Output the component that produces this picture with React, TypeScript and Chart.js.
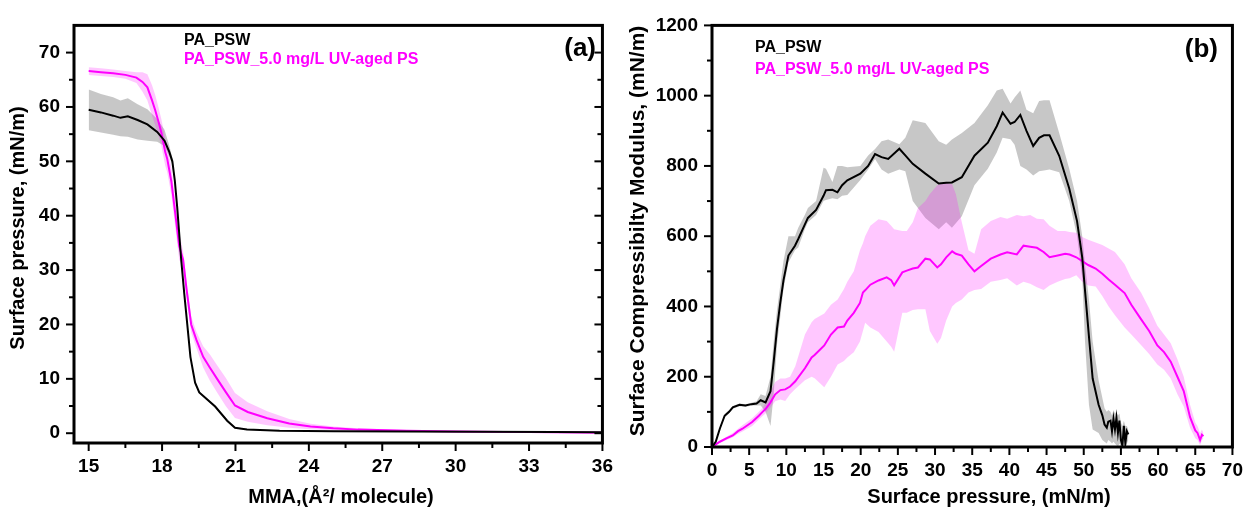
import React, { useEffect, useRef } from 'react';
import { Chart, registerables } from 'chart.js';

Chart.register(...registerables);

// ---------------- Panel (a): isotherms ----------------
const aXTicks = [15, 18, 21, 24, 27, 30, 33, 36];
const aXMinor = [16.5, 19.5, 22.5, 25.5, 28.5, 31.5, 34.5];
const aYTicks = [0, 10, 20, 30, 40, 50, 60, 70];
const aYMinor = [5, 15, 25, 35, 45, 55, 65];

const aBlackX = [15, 15.5, 16, 16.3, 16.6, 17, 17.4, 17.8, 18.1, 18.3, 18.42, 18.52, 18.62, 18.78, 18.9, 19.03, 19.16, 19.35, 19.52, 19.8, 20.17, 20.66, 20.98, 21.47, 22.8, 25, 28, 31, 34, 36];
const aBlack = [59.5, 59.0, 58.4, 58.0, 58.3, 57.6, 56.8, 55.4, 53.8, 51.7, 50.0, 46.5, 41.5, 32, 26, 20, 14, 9.3, 7.5, 6.4, 4.9, 2.3, 1.0, 0.7, 0.47, 0.38, 0.32, 0.28, 0.24, 0.2];
const aBlackUp = [63.2, 62.4, 61.8, 61.2, 61.6, 60.5, 59.6, 57.8, 55.8, 52.8, 50.6, 47.0, 42.0, 32.5, 26.3, 20.3, 14.3, 9.5, 7.7, 6.6, 5.1, 2.5, 1.15, 0.8, 0.55, 0.45, 0.38, 0.33, 0.29, 0.25];
const aBlackLo = [55.7, 55.3, 54.9, 54.6, 54.5, 54.0, 53.8, 53.6, 52.8, 50.8, 49.4, 46.0, 41.0, 31.5, 25.7, 19.7, 13.7, 9.1, 7.3, 6.2, 4.7, 2.1, 0.85, 0.6, 0.4, 0.3, 0.26, 0.23, 0.19, 0.15];

const aPinkX = [15, 15.5, 16, 16.5, 16.95, 17.2, 17.4, 17.59, 17.72, 17.86, 17.97, 18.13, 18.21, 18.38, 18.54, 18.7, 18.86, 19.0, 19.19, 19.4, 19.68, 19.95, 20.25, 20.6, 20.98, 21.5, 22.3, 23.2, 24.07, 25, 26, 28, 30, 33, 36];
const aPink = [66.6, 66.4, 66.2, 65.9, 65.4, 64.6, 63.6, 61.2, 59.4, 57.2, 55.3, 51.7, 50.5, 46.3, 40.4, 34.4, 31.9, 26.5, 20, 17.2, 14.05, 12.1, 10, 7.6, 5.1, 3.9, 2.75, 1.8, 1.25, 0.9, 0.66, 0.45, 0.3, 0.2, 0.1];
const aPinkUp = [67.3, 67.1, 66.9, 66.6, 66.4, 66.4, 66.0, 64.0, 62.2, 59.8, 57.8, 54.2, 53.0, 48.8, 42.9, 36.9, 33.4, 28.0, 21.5, 18.7, 16.0, 14.5, 12.5, 10.2, 7.4, 5.7, 4.05, 2.6, 1.75, 1.25, 0.91, 0.6, 0.45, 0.3, 0.2];
const aPinkLo = [65.9, 65.7, 65.5, 65.2, 64.4, 62.8, 61.2, 58.4, 56.6, 54.6, 52.8, 49.2, 48.0, 43.8, 37.9, 31.9, 30.4, 25.0, 18.5, 15.7, 12.1, 9.7, 7.5, 5.0, 2.8, 2.1, 1.45, 1.0, 0.75, 0.55, 0.41, 0.3, 0.15, 0.1, 0.0];

// ---------------- Panel (b): compressibility modulus ----------------
const bXTicks = [0, 5, 10, 15, 20, 25, 30, 35, 40, 45, 50, 55, 60, 65, 70];
const bXMinor = [2.5, 7.5, 12.5, 17.5, 22.5, 27.5, 32.5, 37.5, 42.5, 47.5, 52.5, 57.5, 62.5, 67.5];
const bYTicks = [0, 200, 400, 600, 800, 1000, 1200];
const bYMinor = [100, 300, 500, 700, 900, 1100];

const bBlackX = [0, 0.5, 1.05, 1.7, 2.3, 2.8, 3.7, 4.5, 5.3, 6.0, 6.55, 7.2, 7.87, 8.3, 8.74, 9.18, 9.62, 10.28, 11.16, 11.6, 12.48, 12.9, 14.0, 15.0, 15.33, 16.2, 16.87, 17.5, 18.2, 19.95, 21.0, 21.93, 22.8, 23.7, 25.2, 26.0, 27.0, 28.7, 30.5, 31.5, 32.27, 33.6, 35.3, 37.1, 38.3, 39.09, 40.15, 40.7, 41.47, 42.3, 43.2, 44.0, 44.65, 45.4, 46.7, 48.05, 49.1, 49.8, 50.17, 50.7, 51.2, 52.0, 52.5, 52.8, 53.1, 53.3, 53.6, 53.8, 54.0, 54.2, 54.4, 54.6, 54.8, 55.0, 55.2, 55.4, 55.6, 55.8, 56.0];
const bBlack = [0, 15, 52, 89, 100, 113, 120, 118, 122, 124, 133, 127, 159, 243, 336, 410, 475, 545, 573, 592, 633, 652, 675, 715, 731, 732, 725, 745, 759, 778, 800, 834, 825, 820, 849, 830, 806, 778, 750, 752, 753, 768, 829, 866, 913, 952, 920, 925, 945, 900, 857, 880, 887, 887, 829, 736, 643, 539, 446, 315, 195, 120, 90, 64, 55, 72, 75, 45, 80, 50, 83, 40, 75, 20, 4, 60, 10, 45, 36];
const bBlackUp = [0, 17, 56, 94, 105, 117, 124, 122, 126, 130, 150, 145, 200, 300, 390, 460, 530, 600, 600, 624, 660, 680, 700, 795, 792, 754, 800, 800, 796, 800, 830, 848, 870, 875, 862, 880, 930, 922, 870, 860, 875, 894, 922, 973, 1015, 1020, 978, 995, 1015, 960, 950, 985, 987, 987, 894, 792, 700, 600, 520, 420, 300, 190, 140, 110, 100, 105, 100, 90, 105, 95, 100, 90, 95, 70, 60, 75, 60, 60, 50];
const bBlackLo = [0, 13, 48, 84, 95, 109, 116, 114, 118, 118, 118, 100, 60, 150, 290, 370, 450, 525, 560, 568, 620, 640, 660, 700, 703, 708, 705, 715, 717, 760, 790, 820, 790, 778, 790, 785, 700, 652, 620, 640, 624, 657, 745, 792, 838, 880, 876, 860, 800, 790, 773, 785, 787, 790, 782, 700, 600, 480, 300, 120, 50, 40, 20, 15, 10, 20, 15, 10, 15, 10, 5, 0, 10, 0, 0, 5, 0, 10, 20];

const bPinkX = [0, 1.05, 2.0, 2.8, 3.5, 4.1, 5.4, 6.3, 6.8, 7.2, 7.8, 8.5, 9.2, 9.85, 10.5, 11.2, 12.5, 13.4, 13.8, 15.1, 16.0, 16.9, 17.75, 18.2, 19.07, 19.9, 20.3, 20.6, 21.3, 22.4, 23.5, 24.1, 24.5, 25.6, 26.2, 27.0, 27.7, 28.7, 29.3, 30.3, 30.8, 31.5, 32.3, 32.8, 33.6, 34.5, 35.3, 36.2, 37.5, 38.8, 39.7, 41.0, 41.9, 42.8, 43.7, 44.6, 45.4, 46.5, 47.5, 48.1, 49.0, 49.8, 50.6, 51.6, 52.5, 53.35, 54.2, 55.5, 56.4, 57.7, 58.8, 59.9, 60.8, 61.7, 62.6, 63.45, 64.3, 65.0, 65.3, 65.65, 65.9, 66.1];
const bPink = [0, 15, 25, 33, 45, 52, 71, 89, 100, 108, 125, 150, 162, 164, 172, 187, 224, 255, 262, 289, 320, 340, 343, 360, 382, 410, 440, 446, 462, 474, 483, 475, 460, 497, 502, 508, 511, 536, 534, 511, 520, 540, 557, 550, 545, 520, 500, 515, 536, 548, 554, 548, 573, 570, 567, 555, 540, 545, 550, 548, 540, 529, 518, 508, 493, 477, 462, 438, 405, 364, 330, 289, 270, 243, 200, 159, 85, 47, 40, 20, 35, 31];
const bPinkUp = [0, 18, 30, 40, 52, 62, 82, 100, 112, 125, 155, 185, 195, 195, 200, 230, 320, 355, 364, 380, 405, 420, 450, 470, 500, 560, 580, 600, 630, 648, 643, 630, 620, 615, 615, 640, 680, 700, 720, 745, 750, 752, 748, 720, 640, 560, 550, 620, 643, 655, 650, 660, 657, 660, 650, 648, 630, 615, 615, 612, 610, 598, 590, 582, 575, 565, 555, 520, 480, 440, 395, 345, 320, 295, 250, 200, 120, 70, 60, 40, 50, 40];
const bPinkLo = [0, 12, 20, 28, 38, 44, 60, 78, 88, 95, 110, 130, 135, 131, 150, 165, 190, 200, 196, 170, 200, 235, 245, 255, 270, 300, 330, 354, 340, 327, 300, 285, 271, 382, 382, 390, 392, 392, 330, 294, 310, 360, 400, 410, 420, 440, 447, 450, 470, 475, 480, 460, 470, 465, 455, 447, 460, 470, 478, 480, 489, 470, 460, 457, 430, 400, 375, 340, 320, 290, 265, 235, 220, 195, 150, 115, 55, 25, 20, 5, 20, 25];

const FONT = '"Liberation Sans", Arial, Helvetica, sans-serif';
const MAGENTA = '#ff00ff';
const GRAY_BAND = 'rgba(0,0,0,0.22)';
const PINK_BAND = 'rgba(255,0,255,0.22)';

const pts = (xs: number[], ys: number[]) => xs.map((x, i) => ({ x, y: ys[i] }));

type TextItem = { text: string; x: number; y: number; color: string; size: number; align: CanvasTextAlign; rotate?: boolean };
type FrameCfg = { xMajor: number[]; xMinor: number[]; yMajor: number[]; yMinor: number[]; rightTicks: boolean; texts: TextItem[] };

function framePlugin(cfg: FrameCfg) {
  return {
    id: 'frameAndText',
    afterDraw(chart: any) {
      const { ctx, chartArea: ca, scales } = chart;
      const xs = scales.x;
      const ys = scales.y;
      ctx.save();
      ctx.strokeStyle = '#000';
      ctx.lineWidth = 2;
      const line = (x1: number, y1: number, x2: number, y2: number) => {
        ctx.beginPath();
        ctx.moveTo(x1, y1);
        ctx.lineTo(x2, y2);
        ctx.stroke();
      };
      cfg.xMajor.forEach((v) => { const p = xs.getPixelForValue(v); line(p, ca.bottom, p, ca.bottom + 8); });
      cfg.xMinor.forEach((v) => { const p = xs.getPixelForValue(v); line(p, ca.bottom, p, ca.bottom + 5); });
      cfg.yMajor.forEach((v) => { const p = ys.getPixelForValue(v); line(ca.left, p, ca.left - 8, p); });
      cfg.yMinor.forEach((v) => { const p = ys.getPixelForValue(v); line(ca.left, p, ca.left - 5, p); });
      if (cfg.rightTicks) {
        cfg.yMajor.forEach((v) => { const p = ys.getPixelForValue(v); line(ca.right, p, ca.right - 8, p); });
        cfg.yMinor.forEach((v) => { const p = ys.getPixelForValue(v); line(ca.right, p, ca.right - 5, p); });
      }
      ctx.lineWidth = 3;
      ctx.lineJoin = 'miter';
      ctx.strokeRect(ca.left, ca.top, ca.right - ca.left, ca.bottom - ca.top);

      cfg.texts.forEach((t) => {
        ctx.save();
        ctx.font = `bold ${t.size}px ${FONT}`;
        ctx.fillStyle = t.color;
        ctx.textAlign = t.align;
        ctx.textBaseline = 'middle';
        ctx.translate(t.x, t.y);
        if (t.rotate) ctx.rotate(-Math.PI / 2);
        ctx.fillText(t.text, 0, 0);
        ctx.restore();
      });
      ctx.restore();
    },
  };
}

function bandSets(xs: number[], up: number[], lo: number[], color: string, upIndex: number, order: number) {
  return [
    { data: pts(xs, up), borderWidth: 0, borderColor: 'transparent', pointRadius: 0, backgroundColor: color, fill: upIndex + 1, order, tension: 0 },
    { data: pts(xs, lo), borderWidth: 0, borderColor: 'transparent', pointRadius: 0, backgroundColor: color, fill: false, order, tension: 0 },
  ];
}

function lineSet(xs: number[], ys: number[], color: string, order: number) {
  return { data: pts(xs, ys), borderWidth: 2, borderColor: color, pointRadius: 0, fill: false, order, tension: 0 };
}

function scaleOpts(min: number, max: number, ticks: number[], fitKey: 'width' | 'height', fitVal: number, padding: number) {
  return {
    type: 'linear' as const,
    min,
    max,
    afterBuildTicks: (s: any) => { s.ticks = ticks.map((v) => ({ value: v })); },
    afterFit: (s: any) => { s[fitKey] = fitVal; },
    grid: { display: false, drawTicks: false },
    border: { display: false },
    title: { display: false },
    ticks: {
      color: '#000',
      padding,
      autoSkip: false,
      maxRotation: 0,
      font: { family: FONT, size: 19, weight: 'bold' as const },
      callback: (v: any) => String(v),
    },
  };
}

function makeConfig(datasets: any[], xScale: any, yScale: any, padding: any, frame: FrameCfg) {
  return {
    type: 'line' as const,
    data: { datasets },
    options: {
      animation: false as const,
      responsive: false,
      devicePixelRatio: 1,
      layout: { padding },
      plugins: { legend: { display: false }, tooltip: { enabled: false } },
      scales: { x: xScale, y: yScale },
    },
    plugins: [framePlugin(frame)],
  };
}

export default function App() {
  const refA = useRef<HTMLCanvasElement>(null);
  const refB = useRef<HTMLCanvasElement>(null);

  useEffect(() => {
    document.body.style.margin = '0';
    const dsA = [
      ...bandSets(aBlackX, aBlackUp, aBlackLo, GRAY_BAND, 0, 4),
      ...bandSets(aPinkX, aPinkUp, aPinkLo, PINK_BAND, 2, 3),
      lineSet(aPinkX, aPink, MAGENTA, 1),
      lineSet(aBlackX, aBlack, '#000', 0),
    ];
    const chartA = new Chart(refA.current as HTMLCanvasElement, makeConfig(
      dsA,
      scaleOpts(14.4, 36, aXTicks, 'height', 65, 12),
      scaleOpts(-1.8, 75, aYTicks, 'width', 74, 14),
      { top: 13, right: 18, left: 0, bottom: 0 },
      {
        xMajor: aXTicks, xMinor: aXMinor, yMajor: aYTicks, yMinor: aYMinor, rightTicks: true,
        texts: [
          { text: 'PA_PSW', x: 184, y: 41, color: '#000', size: 16, align: 'left' },
          { text: 'PA_PSW_5.0 mg/L UV-aged PS', x: 184, y: 60, color: MAGENTA, size: 16, align: 'left' },
          { text: '(a)', x: 596, y: 49, color: '#000', size: 26, align: 'right' },
          { text: 'Surface pressure, (mN/m)', x: 18, y: 228, color: '#000', size: 20, align: 'center', rotate: true },
          { text: 'MMA,(Å²/ molecule)', x: 341, y: 497, color: '#000', size: 20, align: 'center' },
        ],
      },
    ) as any);

    const dsB = [
      ...bandSets(bBlackX, bBlackUp, bBlackLo, GRAY_BAND, 0, 4),
      ...bandSets(bPinkX, bPinkUp, bPinkLo, PINK_BAND, 2, 3),
      lineSet(bPinkX, bPink, MAGENTA, 1),
      lineSet(bBlackX, bBlack, '#000', 0),
    ];
    const chartB = new Chart(refB.current as HTMLCanvasElement, makeConfig(
      dsB,
      scaleOpts(0, 70, bXTicks, 'height', 61, 12),
      scaleOpts(0, 1200, bYTicks, 'width', 87, 14),
      { top: 17, right: 12, left: 0, bottom: 0 },
      {
        xMajor: bXTicks, xMinor: bXMinor, yMajor: bYTicks, yMinor: bYMinor, rightTicks: false,
        texts: [
          { text: 'PA_PSW', x: 130, y: 48, color: '#000', size: 16, align: 'left' },
          { text: 'PA_PSW_5.0 mg/L UV-aged PS', x: 130, y: 70, color: MAGENTA, size: 16, align: 'left' },
          { text: '(b)', x: 593, y: 50, color: '#000', size: 26, align: 'right' },
          { text: 'Surface Compressibilty Modulus, (mN/m)', x: 13, y: 231, color: '#000', size: 21, align: 'center', rotate: true },
          { text: 'Surface pressure, (mN/m)', x: 364, y: 497, color: '#000', size: 20, align: 'center' },
        ],
      },
    ) as any);

    return () => {
      chartA.destroy();
      chartB.destroy();
    };
  }, []);

  return (
    <div style={{ position: 'fixed', left: 0, top: 0, width: 1255, height: 508, background: '#fff' }}>
      <canvas ref={refA} width={625} height={508} style={{ position: 'absolute', left: 0, top: 0, width: 625, height: 508 }} />
      <canvas ref={refB} width={630} height={508} style={{ position: 'absolute', left: 625, top: 0, width: 630, height: 508 }} />
    </div>
  );
}
